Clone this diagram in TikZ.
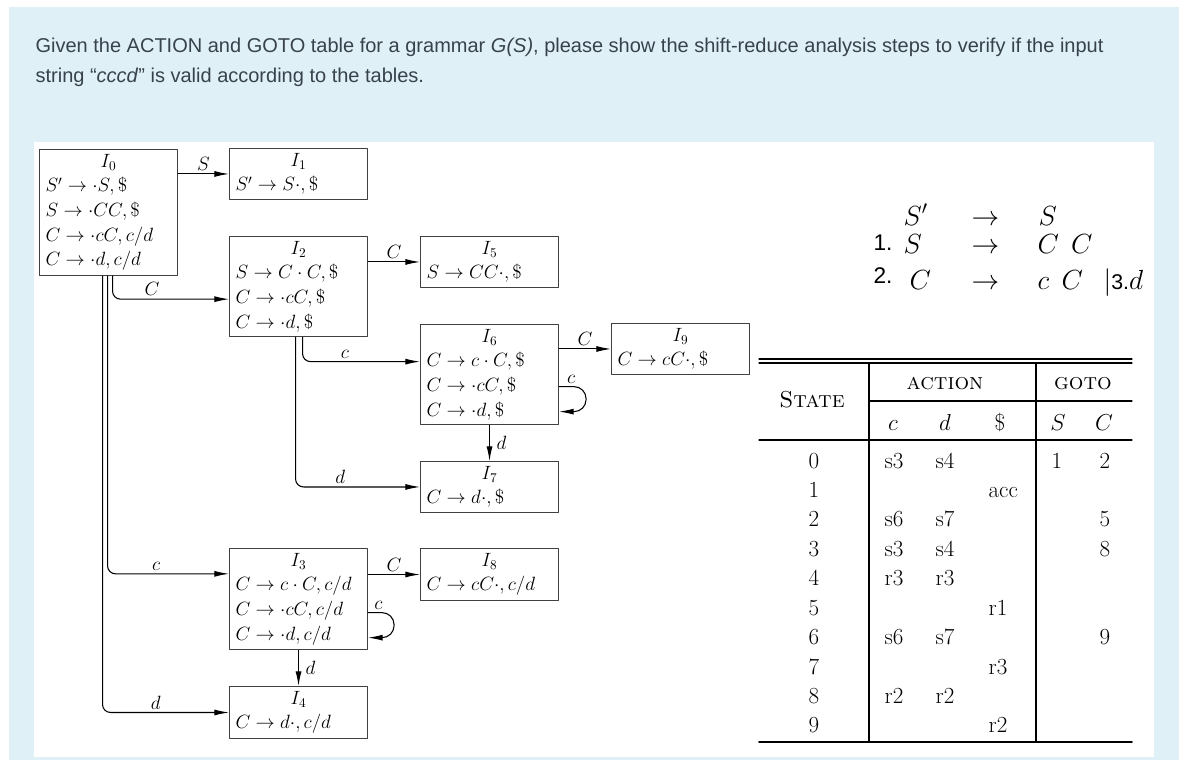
\documentclass[tikz,border=0pt]{standalone}
\usepackage{fontspec}
\newfontfamily\websans{Liberation Sans}
\usetikzlibrary{arrows.meta}

\definecolor{pagebg}{RGB}{223,240,247}
\definecolor{qtext}{RGB}{55,66,77}
\newcommand{\sethead}[1]{\makebox[\linewidth]{$#1$}\\}

\tikzset{
  itemset/.style={draw=black!75,line width=0.8pt,anchor=north west,text width=94.5pt,
    inner xsep=4.5pt,inner ysep=3.5pt,align=left,font=\fontsize{14.4}{18.5}\selectfont},
  trans/.style={->,line width=0.8pt,rounded corners=6pt},
  sym/.style={font=\fontsize{14.4}{18}\selectfont,inner sep=2pt},
  cell/.style={anchor=base,font=\fontsize{17.28}{20}\selectfont},
  tabrule/.style={line width=0.8pt},
  gram/.style={anchor=base west,font=\fontsize{20.74}{24}\selectfont},
  gnum/.style={anchor=base west,font=\websans\fontsize{17}{20}\selectfont},
  quest/.style={anchor=base west,text=qtext,font=\websans\fontsize{15}{18}\selectfont}
}

\begin{document}
\begin{tikzpicture}[x=0.75pt,y=-0.75pt,line cap=round,line join=round,
  >={Latex[length=11pt,width=4.5pt]},every node/.style={inner sep=1pt}]
  \useasboundingbox (0,0) rectangle (1186,761);
  \fill[pagebg] (9,7) rectangle (1179,760);
  \fill[white] (34,142) rectangle (1154,757);

  % question
  \node[quest] (quest1) at (34,52)
    {Given the ACTION and GOTO table for a grammar \textit{G(S)}, please show the shift-reduce analysis steps to verify if the input};
  \node[quest] (quest2) at (34,82) {string “\textit{cccd}” is valid according to the tables.};

  % item sets
  \node[itemset] (I0) at (39,149) {\sethead{I_0}$S'\to\cdot S,\$$\\$S\to\cdot CC,\$$\\$C\to\cdot cC,c/d$\\$C\to\cdot d,c/d$};
  \node[itemset] (I1) at (229,148) {\sethead{I_1}$S'\to S\cdot,\$$};
  \node[itemset] (I2) at (229,236) {\sethead{I_2}$S\to C\cdot C,\$$\\$C\to\cdot cC,\$$\\$C\to\cdot d,\$$};
  \node[itemset] (I5) at (420,236) {\sethead{I_5}$S\to CC\cdot,\$$};
  \node[itemset] (I6) at (420,324) {\sethead{I_6}$C\to c\cdot C,\$$\\$C\to\cdot cC,\$$\\$C\to\cdot d,\$$};
  \node[itemset] (I9) at (611,323) {\sethead{I_9}$C\to cC\cdot,\$$};
  \node[itemset] (I7) at (420,461) {\sethead{I_7}$C\to d\cdot,\$$};
  \node[itemset] (I3) at (229,548) {\sethead{I_3}$C\to c\cdot C,c/d$\\$C\to\cdot cC,c/d$\\$C\to\cdot d,c/d$};
  \node[itemset] (I8) at (420,548) {\sethead{I_8}$C\to cC\cdot,c/d$};
  \node[itemset] (I4) at (229,686) {\sethead{I_4}$C\to d\cdot,c/d$};

  % transitions
  \draw[trans] (I0.east |- I1.west) -- (I1.west) node[sym,midway,above] {$S$};
  \draw[trans] ([xshift=3pt]I0.south) |- ([yshift=-9.4pt]I2.west) node[sym,pos=0.67,above] {$C$};
  \draw[trans] ([xshift=-0.75pt]I0.south) |- ([yshift=19pt]I3.west) node[sym,pos=0.7,above] {$c$};
  \draw[trans] ([xshift=-4.5pt]I0.south) |- (I4.west) node[sym,pos=0.71,above] {$d$};
  \draw[trans] (I2.east |- I5.west) -- (I5.west) node[sym,midway,above] {$C$};
  \draw[trans] ([xshift=3pt]I2.south) |- ([yshift=9.75pt]I6.west) node[sym,pos=0.68,above] {$c$};
  \draw[trans] ([xshift=-2.25pt]I2.south) |- (I7.west) node[sym,pos=0.68,above] {$d$};
  \draw[trans] (I6.east |- I9.west) -- (I9.west) node[sym,midway,above] {$C$};
  \draw[trans,rounded corners=9pt] ([yshift=-9pt]I6.east) -- ++(27,0) node[sym,pos=0.45,above] {$c$}
    -- ++(0,25) -- ([yshift=-27.75pt]I6.east);
  \draw[trans] (I6.south) -- (I7.north) node[sym,midway,right=3pt] {$d$};
  \draw[trans] (I3.east |- I8.west) -- (I8.west) node[sym,midway,above] {$C$};
  \draw[trans,rounded corners=9pt] ([yshift=-10.1pt]I3.east) -- ++(26,0) node[sym,pos=0.4,above] {$c$}
    -- ++(0,25) -- ([yshift=-28.9pt]I3.east);
  \draw[trans] (I3.south) -- (I4.north) node[sym,midway,right=3pt] {$d$};

  % grammar
  \node[gram] (g0l) at (902,225) {$S'$};
  \node[gram] (g0a) at (970,225) {$\to$};
  \node[gram] (g0r) at (1037,225) {$S$};
  \node[gnum] (g1n) at (872,250) {1.};
  \node[gram] (g1l) at (902,253) {$S$};
  \node[gram] (g1a) at (970,253) {$\to$};
  \node[gram] (g1r) at (1036,253) {$C\;\,C$};
  \node[gnum] (g2n) at (872,283) {2.};
  \node[gram] (g2l) at (908,289) {$C$};
  \node[gram] (g2a) at (970,289) {$\to$};
  \node[gram] (g2r) at (1036,289) {$c\;\,C$};
  \node[gram] (g3r) at (1102,289) {$|${\websans\fontsize{16}{18}\selectfont 3.}$d$};

  % parsing table
  \draw[tabrule] (759,359) -- (1132,359) (759,363) -- (1132,363);
  \draw[tabrule] (869,401) -- (1132,401);
  \draw[tabrule] (759,440) -- (1132,440);
  \draw[line width=1.3pt] (759,742) -- (1132,742);
  \draw[tabrule] (869,363) -- (869,742) (1036,363) -- (1036,742);
  \node[cell] (hstate) at (812,407) {\textsc{State}};
  \node[cell] (haction) at (945,389) {\textsc{action}};
  \node[cell] (hgoto) at (1083,389) {\textsc{goto}};
  \node[cell] (hc) at (893,430) {$c$};
  \node[cell] (hd) at (945,430) {$d$};
  \node[cell] (hdol) at (1000,430) {\$};
  \node[cell] (hS) at (1058,430) {$S$};
  \node[cell] (hC) at (1104,430) {$C$};
  \foreach \st/\ac/\ad/\ae/\gs/\gc in {0/s3/s4/{}/1/2, 1/{}/{}/acc/{}/{}, 2/s6/s7/{}/{}/5,
      3/s3/s4/{}/{}/8, 4/r3/r3/{}/{}/{}, 5/{}/{}/r1/{}/{}, 6/s6/s7/{}/{}/9,
      7/{}/{}/r3/{}/{}, 8/r2/r2/{}/{}/{}, 9/{}/{}/r2/{}/{}} {
    \node[cell] (st\st) at (814,{468+29.44*\st}) {\st};
    \node[cell] (ac\st) at (894,{468+29.44*\st}) {\ac};
    \node[cell] (ad\st) at (945,{468+29.44*\st}) {\ad};
    \node[cell,anchor=base west] (ae\st) at (987,{468+29.44*\st}) {\ae};
    \node[cell] (gs\st) at (1057,{468+29.44*\st}) {\gs};
    \node[cell] (gc\st) at (1105,{468+29.44*\st}) {\gc};
  }
\end{tikzpicture}
\end{document}
